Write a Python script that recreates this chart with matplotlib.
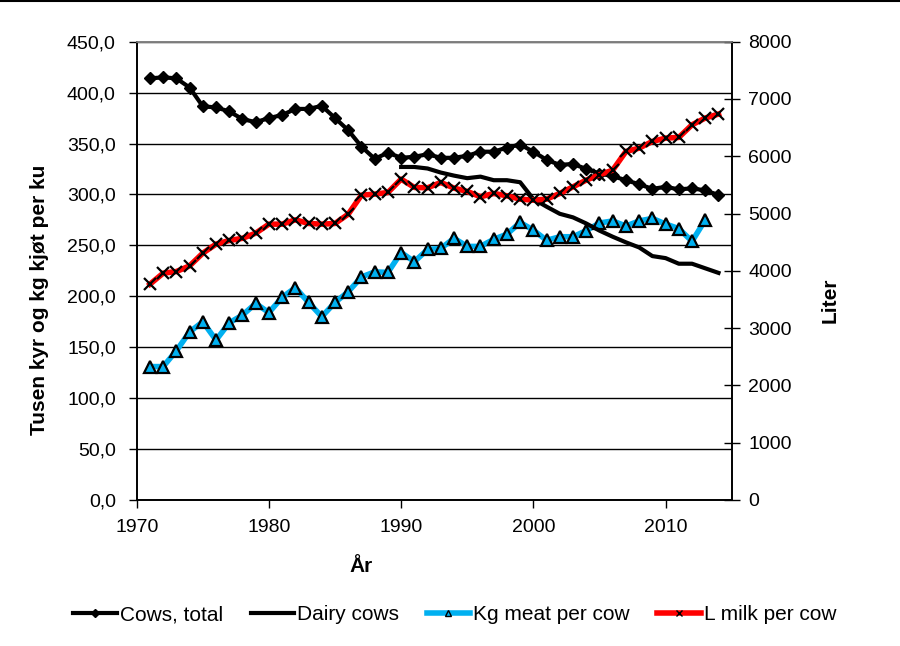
import matplotlib
matplotlib.use("Agg")
import matplotlib.pyplot as plt
from matplotlib.lines import Line2D
import numpy as np

plt.rcParams['font.family'] = ['Liberation Sans', 'DejaVu Sans']

years = list(range(1971, 2015))

cows_total = [414, 415, 414, 405, 386.5, 385.5, 381.5, 374, 371, 375,
              378, 384, 384, 387, 375, 363, 347, 335, 341, 336,
              337, 339.5, 336, 336, 338, 342, 342, 346, 349, 342,
              334, 329, 330, 325, 320.5, 318, 314, 310, 305.5, 307.5,
              305, 306, 304, 299.5]

dairy_years = list(range(1990, 2015))
dairy_cows = [327, 327, 325.5, 321.5, 318.5, 316, 317.5, 314, 314, 312,
              295.5, 288, 281, 277.5, 271.5, 264.5, 258.5, 253, 248, 239.5,
              237.5, 232, 232, 227.5, 223]

meat_years = list(range(1971, 2014))
meat_per_cow = [131, 131, 146.5, 165, 175, 157, 174, 181.5, 193, 184,
                199, 208.5, 194, 180, 194, 204.5, 219, 224, 223.5, 243,
                234, 246, 247, 257, 249, 249, 256, 261, 272.5, 265,
                255, 258.5, 258.5, 264.5, 272, 274, 269, 274, 276.5, 271,
                266.5, 254, 275]

milk_per_cow = [3767, 3959, 3988, 4087, 4309, 4466, 4530, 4568, 4658, 4815,
                4815, 4891, 4827, 4815, 4827, 4990, 5322, 5339, 5368, 5601,
                5456, 5450, 5543, 5444, 5386, 5293, 5351, 5310, 5252, 5234,
                5252, 5351, 5467, 5584, 5677, 5758, 6084, 6142, 6259, 6317,
                6329, 6550, 6667, 6737]

left_ticks = np.arange(0, 451, 50)
left_labels = [f"{v:.1f}".replace('.', ',') for v in left_ticks]
right_ticks = np.arange(0, 8001, 1000)
x_ticks = [1970, 1980, 1990, 2000, 2010]

legend_labels = ["Cows, total", "Dairy cows", "Kg meat per cow", "L milk per cow"]

W, H = 900, 646
fig = plt.figure(figsize=(9.0, 6.46), dpi=100)
l, r, t, b = 136.7, 731.7, 41.7, 500
ax = fig.add_axes([l / W, 1 - b / H, (r - l) / W, (b - t) / H])
ax2 = ax.twinx()

cyan = '#00B0F0'
red = '#FF0000'

h1, = ax.plot(years, cows_total, color='black', lw=3, marker='D', ms=6.5,
              mfc='black', mec='black', zorder=5)
h2, = ax.plot(dairy_years, dairy_cows, color='black', lw=3, zorder=4)
h3, = ax.plot(meat_years, meat_per_cow, color=cyan, lw=4, marker='^', ms=8,
              mfc=cyan, mec='black', mew=1.6, zorder=3)
h4, = ax2.plot(years, milk_per_cow, color=red, lw=4, marker='x', ms=8,
               mec='black', mew=1.6, zorder=3)

ax.set_xlim(1970, 2015)
ax.set_ylim(0, 450)
ax2.set_ylim(0, 8000)

ax.set_yticks(left_ticks)
ax.set_yticklabels(left_labels)
ax2.set_yticks(right_ticks)
ax2.set_yticklabels([str(v) for v in right_ticks])
ax.set_xticks(x_ticks)
ax.set_xticklabels([str(v) for v in x_ticks])

for a in (ax, ax2):
    a.set_facecolor('none')
ax.set_zorder(ax2.get_zorder() - 1)
ax.patch.set_visible(True)
ax.patch.set_facecolor('white')

ax.yaxis.grid(True, color='black', lw=1)
ax.set_axisbelow(True)

for a in (ax, ax2):
    a.spines['top'].set_color('#808080')
    a.spines['left'].set_color('black')
    a.spines['right'].set_color('black')
    a.spines['bottom'].set_color('black')
    for s in a.spines.values():
        s.set_linewidth(1.2)

ax.tick_params(axis='y', direction='out', length=6, width=1, labelsize=14, pad=9)
ax.tick_params(axis='x', direction='out', length=6, width=1, labelsize=14, pad=8)
ax2.tick_params(axis='y', direction='inout', length=12, width=1, labelsize=14, pad=6)

fig.text(40 / W, 1 - 300 / H, "Tusen kyr og kg kjøt per ku", rotation=90,
         ha='center', va='center', fontsize=15, fontweight='bold')
fig.text(830 / W, 1 - 300 / H, "Liter", rotation=90,
         ha='center', va='center', fontsize=15, fontweight='bold')
fig.text(361 / W, 1 - 567 / H, "År", ha='center', va='center',
         fontsize=15, fontweight='bold')

leg_handles = [
    Line2D([], [], color='black', lw=3, marker='D', ms=4, mfc='black', mec='black'),
    Line2D([], [], color='black', lw=3),
    Line2D([], [], color=cyan, lw=4, marker='^', ms=5, mfc=cyan, mec='black', mew=1),
    Line2D([], [], color=red, lw=4, marker='x', ms=5, mec='black', mew=1),
]
fig.legend(leg_handles, legend_labels, loc='center', ncol=4,
           bbox_to_anchor=(455 / W, 1 - 615 / H), frameon=False, fontsize=15,
           handlelength=2.1, handletextpad=0.15, columnspacing=1.3)

fig.add_artist(Line2D([0, 1], [0.999, 0.999], transform=fig.transFigure,
                      color='black', lw=1.5))

fig.savefig('out.png', dpi=100)
